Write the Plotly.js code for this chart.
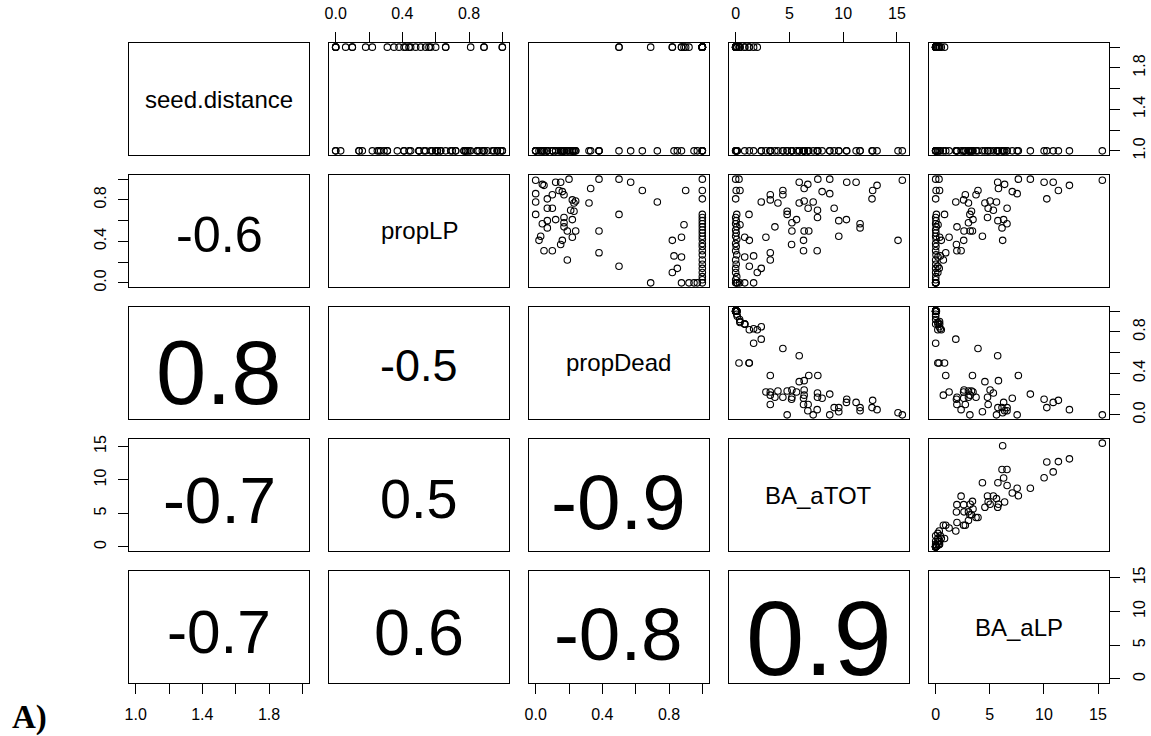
<!DOCTYPE html>
<html>
<head>
<meta charset="utf-8">
<script src="https://cdn.plot.ly/plotly-3.0.1.min.js"></script>
<style>
html,body{margin:0;padding:0;background:#fff;}
#chart{width:1151px;height:736px;}
</style>
</head>
<body>
<div id="chart"></div>
<script>
// ---- data (one value per observation) ----
const varNames = ['seed.distance', 'propLP', 'propDead', 'BA_aTOT', 'BA_aLP'];

const seedDistance = [
  1,1,1,1,1,1,1,1,1,1,
  1,1,1,1,1,1,1,1,1,1,
  1,1,1,1,1,1,1,1,1,1,
  1,1,1,1,1,1,1,1,1,1,
  1,1,1,1,1,1,
  1,1,2,1,2,2,1,2,2,1,2,2,2,2,2,
  2,2,2,2,1,2,2,2,2,2,2,2,2,2,2,1,2,2,1,2,2,1,2,1,1
];
const propLP = [
  0.99,0.41,0.94,0.89,0.81,0.53,0.57,0.97,0.97,0.61,
  0.60,0.45,0.72,1.00,0.86,0.88,1.00,0.70,0.63,0.31,
  0.78,0.50,0.72,0.95,0.91,0.79,0.50,0.41,0.31,0.97,
  0.77,0.61,0.58,0.50,0.37,0.69,0.66,0.89,0.85,0.77,
  0.54,0.85,0.80,0.29,0.22,0.44,
  0.78,0.14,0.10,0.26,0.00,0.41,0.16,0.66,0.44,0.25,0.00,0.56,0.89,0.00,1.00,
  1.00,0.89,0.81,0.66,0.63,0.60,0.57,0.54,0.51,0.48,0.45,0.42,0.38,0.35,0.31,0.27,0.22,0.18,0.14,0.10,0.06,0.03,0.00,0.00,0.00
];
const propDead = [
  0.00,0.02,0.05,0.14,0.07,0.07,0.04,0.12,0.15,0.12,
  0.07,0.03,0.07,0.20,0.00,0.16,0.38,0.21,0.17,0.05,
  0.00,0.38,0.10,0.04,0.33,0.24,0.19,0.16,0.10,0.57,
  0.32,0.22,0.17,0.24,0.15,0.23,0.00,0.64,0.17,0.23,
  0.17,0.10,0.22,0.38,0.19,0.22,
  0.73,0.85,0.82,0.83,0.69,0.82,0.50,0.50,0.875,0.875,0.875,0.89,0.90,0.92,0.50,
  1,1,1,1,1,1,1,1,1,1,1,1,1,1,1,1,1,1,1,1,1,1,1,0.95,0.97
];
const BA_aTOT = [
  15.50,15.10,13.15,12.74,12.68,11.57,11.57,11.20,10.33,10.30,
  9.59,9.59,9.16,8.75,8.75,8.04,7.64,7.61,7.61,7.58,
  7.21,6.80,6.74,6.71,6.37,6.37,6.37,6.31,6.31,5.91,
  5.91,5.66,5.23,5.23,5.20,4.79,4.79,4.39,4.39,3.93,
  3.65,3.22,3.22,3.22,3.22,2.81,
  2.38,2.38,2.01,1.67,1.67,1.27,1.27,1.24,0.84,0.84,0.84,0.40,0.40,0.37,0.31,
  0.00,0.05,0.00,0.10,0.00,0.05,0.00,0.10,0.00,0.05,0.00,0.10,0.00,0.05,0.00,0.10,0.00,0.05,0.00,0.00,0.10,0.00,0.00,0.15,0.10
];
const BA_aLP = [
  15.40,6.19,12.36,11.34,10.27,6.13,6.59,10.86,10.02,6.28,
  5.75,4.32,6.60,8.75,7.53,7.08,7.64,5.33,4.79,2.35,
  5.62,3.40,4.85,6.37,5.80,5.03,3.19,2.59,1.96,5.73,
  4.55,3.45,3.03,2.62,1.92,3.31,3.16,3.91,3.73,3.03,
  1.97,2.74,2.58,0.93,0.71,1.24,
  1.86,0.33,0.20,0.43,0.00,0.52,0.20,0.82,0.37,0.21,0.00,0.22,0.36,0.00,0.31,
  0.00,0.04,0.00,0.07,0.00,0.03,0.00,0.05,0.00,0.02,0.00,0.04,0.00,0.02,0.00,0.03,0.00,0.01,0.00,0.00,0.01,0.00,0.00,0.00,0.00
];

// correlation values shown in the lower panels
const corrRow   = [1, 2, 2, 3, 3, 3, 4, 4, 4, 4];
const corrCol   = [0, 0, 1, 0, 1, 2, 0, 1, 2, 3];
const corrValue = [-0.56, 0.81, -0.50, -0.73, 0.50, -0.87, -0.67, 0.58, -0.83, 0.94];

// tick values / labels per variable
const tickVals = [
  [1.0, 1.2, 1.4, 1.6, 1.8, 2.0],
  [0, 0.2, 0.4, 0.6, 0.8, 1.0],
  [0, 0.2, 0.4, 0.6, 0.8, 1.0],
  [0, 5, 10, 15],
  [0, 5, 10, 15]
];
const tickText = [
  ['1.0', '', '1.4', '', '1.8', ''],
  ['0.0', '', '0.4', '', '0.8', ''],
  ['0.0', '', '0.4', '', '0.8', ''],
  ['0', '5', '10', '15'],
  ['0', '5', '10', '15']
];

// ---- layout geometry ----
const W = 1151, H = 736;
const colPx = [[129, 309], [329, 509], [529, 709], [729, 909], [929, 1109]];
const rowPx = [[43, 155], [175, 287], [307, 419], [439, 551], [571, 683]];
const data = [seedDistance, propLP, propDead, BA_aTOT, BA_aLP];
const n = 5;

function padRange(arr) {
  const mn = Math.min(...arr), mx = Math.max(...arr);
  const d = (mx - mn) * 0.04;
  return [mn - d, mx + d];
}
const ranges = data.map(padRange);

const FONT = 'Liberation Sans, Arial, Helvetica, sans-serif';
const traces = [];
const layout = {
  width: W, height: H,
  margin: {l: 0, r: 0, t: 0, b: 0, pad: 0},
  paper_bgcolor: '#fff', plot_bgcolor: '#fff',
  showlegend: false,
  font: {family: FONT, color: '#000', size: 16},
  annotations: []
};

function axisBase(dom, rng) {
  return {
    domain: dom, range: rng, autorange: false,
    showline: true, mirror: true, linecolor: '#000', linewidth: 1,
    showgrid: false, zeroline: false, ticks: '', showticklabels: false,
    fixedrange: true
  };
}
function addTicks(ax, v, side, isY) {
  ax.side = side;
  ax.ticks = 'outside';
  ax.ticklen = 10;
  ax.tickwidth = 1;
  ax.tickcolor = '#000';
  ax.showticklabels = true;
  ax.tickmode = 'array';
  ax.tickvals = tickVals[v];
  ax.ticktext = tickText[v];
  ax.tickfont = {family: FONT, size: 16, color: '#000'};
  ax.ticklabelstandoff = isY ? 6 : 7;
  ax.tickangle = isY ? -90 : 0;
}

for (let r = 0; r < n; r++) {
  for (let c = 0; c < n; c++) {
    const k = r * n + c + 1;
    const xn = k === 1 ? 'xaxis' : 'xaxis' + k;
    const yn = k === 1 ? 'yaxis' : 'yaxis' + k;
    const xr = k === 1 ? 'x' : 'x' + k;
    const yr = k === 1 ? 'y' : 'y' + k;
    const xa = axisBase([colPx[c][0] / W, colPx[c][1] / W], ranges[c]);
    const ya = axisBase([1 - rowPx[r][1] / H, 1 - rowPx[r][0] / H], ranges[r]);
    xa.anchor = yr; ya.anchor = xr;
    if (r === 0 && (c === 1 || c === 3)) addTicks(xa, c, 'top', false);
    if (r === n - 1 && (c === 0 || c === 2 || c === 4)) addTicks(xa, c, 'bottom', false);
    if (c === 0 && (r === 1 || r === 3)) addTicks(ya, r, 'left', true);
    if (c === n - 1 && (r === 0 || r === 2 || r === 4)) addTicks(ya, r, 'right', true);
    layout[xn] = xa; layout[yn] = ya;

    if (r < c) {
      traces.push({
        type: 'scatter', mode: 'markers',
        x: data[c], y: data[r], xaxis: xr, yaxis: yr,
        marker: {symbol: 'circle-open', size: 6.5, color: '#000', line: {width: 1.1, color: '#000'}},
        hoverinfo: 'skip', cliponaxis: false
      });
    } else {
      traces.push({type: 'scatter', mode: 'markers', x: [], y: [], xaxis: xr, yaxis: yr, hoverinfo: 'skip'});
    }
    if (r === c) {
      layout.annotations.push({
        xref: 'paper', yref: 'paper',
        x: (colPx[c][0] + colPx[c][1]) / 2 / W,
        y: 1 - (rowPx[r][0] + rowPx[r][1]) / 2 / H,
        text: varNames[r], showarrow: false,
        xanchor: 'center', yanchor: 'middle',
        font: {family: FONT, size: 24, color: '#000'}
      });
    }
  }
}

// correlation text: size proportional to |r| (text width ~ 155 px * |r|)
const advance = {'-': 0.333, '.': 0.278};
function textWidthEm(s) {
  let w = 0;
  for (const ch of s) w += (advance[ch] !== undefined ? advance[ch] : 0.556);
  return w;
}
for (let i = 0; i < corrValue.length; i++) {
  const r = corrRow[i], c = corrCol[i];
  const label = corrValue[i].toFixed(1);
  const size = 155 * Math.abs(corrValue[i]) / textWidthEm(label);
  layout.annotations.push({
    xref: 'paper', yref: 'paper',
    x: (colPx[c][0] + colPx[c][1]) / 2 / W,
    y: 1 - (rowPx[r][0] + rowPx[r][1]) / 2 / H,
    text: label, showarrow: false,
    xanchor: 'center', yanchor: 'middle',
    yshift: 4.5 - 0.15 * size,
    font: {family: FONT, size: size, color: '#000'}
  });
}

// panel tag
layout.annotations.push({
  xref: 'paper', yref: 'paper', x: 29 / W, y: 1 - 717 / H,
  text: '<b>A)</b>', showarrow: false, xanchor: 'center', yanchor: 'middle',
  font: {family: 'Liberation Serif, Times New Roman, serif', size: 33, color: '#000'}
});

Plotly.newPlot('chart', traces, layout, {staticPlot: true, displayModeBar: false});
</script>
</body>
</html>
